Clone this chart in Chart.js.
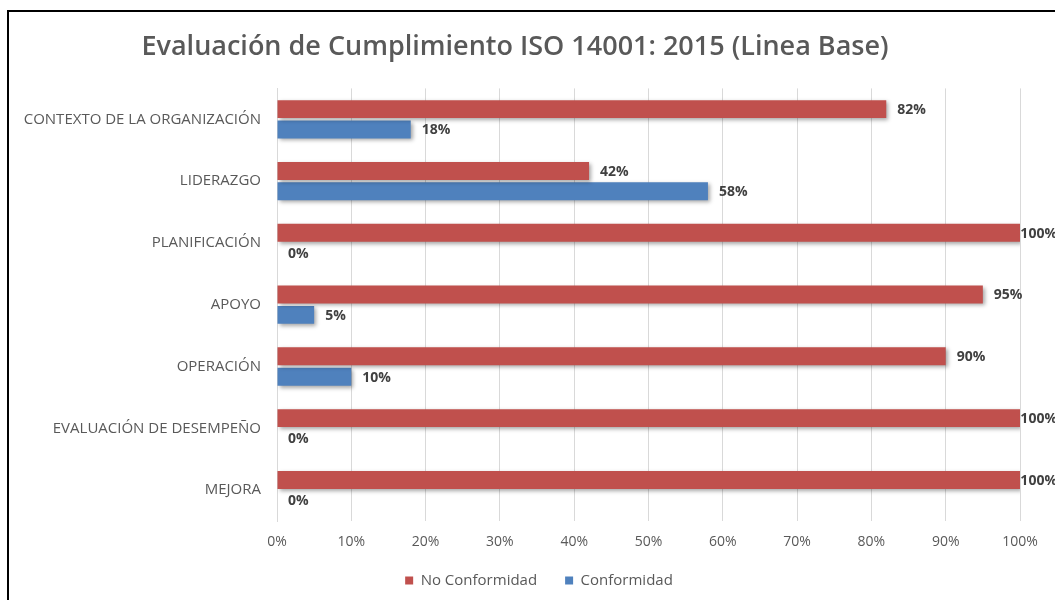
<!DOCTYPE html>
<html>
<head>
<meta charset="utf-8">
<script src="https://cdn.jsdelivr.net/npm/chart.js@4"></script>
<style>
  body { margin: 0; background: #fff; overflow: hidden; }
  #wrap { position: relative; width: 1055px; height: 600px; }
  #frame { position: absolute; left: 7px; top: 10px; width: 1100px; height: 700px;
           border: 2px solid #000; pointer-events: none; }
</style>
</head>
<body>
<div id="wrap">
  <canvas id="isoChart" width="1055" height="600"></canvas>
  <div id="frame"></div>
</div>
<script>
const categories = [
  'CONTEXTO DE LA ORGANIZACIÓN',
  'LIDERAZGO',
  'PLANIFICACIÓN',
  'APOYO',
  'OPERACIÓN',
  'EVALUACIÓN DE DESEMPEÑO',
  'MEJORA'
];
const noConformidad = [82, 42, 100, 95, 90, 100, 100];
const conformidad = [18, 58, 0, 5, 10, 0, 0];
const xTicks = [0, 10, 20, 30, 40, 50, 60, 70, 80, 90, 100];

const FONT = "'Open Sans', sans-serif";

// shadow under the bars, then the value labels on top
const barLabels = {
  id: 'barLabels',
  afterLayout(chart) {
    // legend sits a bit right of centre in the original
    chart.legend.left += 24;
    chart.legend.right += 24;
    chart.legend.top -= 2;
    chart.legend.bottom -= 2;
  },
  beforeDatasetsDraw(chart) {
    const ctx = chart.ctx;
    ctx.save();
    ctx.shadowColor = 'rgba(0,0,0,0.35)';
    ctx.shadowBlur = 4;
    ctx.shadowOffsetX = 2;
    ctx.shadowOffsetY = 2;
  },
  afterDatasetsDraw(chart) {
    const ctx = chart.ctx;
    ctx.restore();
    ctx.save();
    ctx.font = 'bold 14px ' + FONT;
    ctx.fillStyle = '#404040';
    ctx.textBaseline = 'middle';
    ctx.textAlign = 'left';
    chart.data.datasets.forEach((ds, i) => {
      chart.getDatasetMeta(i).data.forEach((bar, j) => {
        const txt = ds.data[j] + '%';
        const w = ctx.measureText(txt).width;
        let x = bar.x + 11;
        if (x + w > chart.width + 2) x = chart.width + 2 - w;
        ctx.fillText(txt, x, bar.y + 1);
      });
    });
    ctx.restore();
  }
};

new Chart(document.getElementById('isoChart'), {
  type: 'bar',
  data: {
    labels: categories,
    datasets: [
      {
        label: 'No Conformidad',
        data: noConformidad,
        backgroundColor: '#c0504d',
        categoryPercentage: 0.66,
        barPercentage: 0.88
      },
      {
        label: 'Conformidad',
        data: conformidad,
        backgroundColor: '#4f81bd',
        categoryPercentage: 0.66,
        barPercentage: 0.88
      }
    ]
  },
  options: {
    indexAxis: 'y',
    responsive: false,
    animation: false,
    layout: { padding: { left: 10, right: 35, top: 0, bottom: 0 } },
    plugins: {
      title: {
        display: true,
        text: 'Evaluación de Cumplimiento ISO 14001: 2015 (Linea Base)',
        color: '#595959',
        font: { family: FONT, size: 27, weight: '600' },
        padding: { top: 31, bottom: 25 }
      },
      legend: {
        position: 'bottom',
        labels: {
          color: '#595959',
          font: { family: FONT, size: 15 },
          boxWidth: 8,
          boxHeight: 8,
          padding: 28
        }
      },
      tooltip: { enabled: false }
    },
    scales: {
      x: {
        min: 0,
        max: 100,
        afterBuildTicks: (s) => { s.ticks = xTicks.map(v => ({ value: v })); },
        afterFit: (s) => { s.height = 26; },
        ticks: {
          color: '#595959',
          font: { family: FONT, size: 14 },
          padding: 13,
          callback: (v) => v + '%'
        },
        grid: { color: '#d9d9d9', drawTicks: false },
        border: { display: false }
      },
      y: {
        afterFit: (s) => { s.width = 267; },
        ticks: {
          color: '#595959',
          font: { family: FONT, size: 15 },
          padding: 16
        },
        grid: { display: false, drawTicks: false },
        border: { display: true, color: '#d9d9d9' }
      }
    }
  },
  plugins: [barLabels]
});
</script>
</body>
</html>
